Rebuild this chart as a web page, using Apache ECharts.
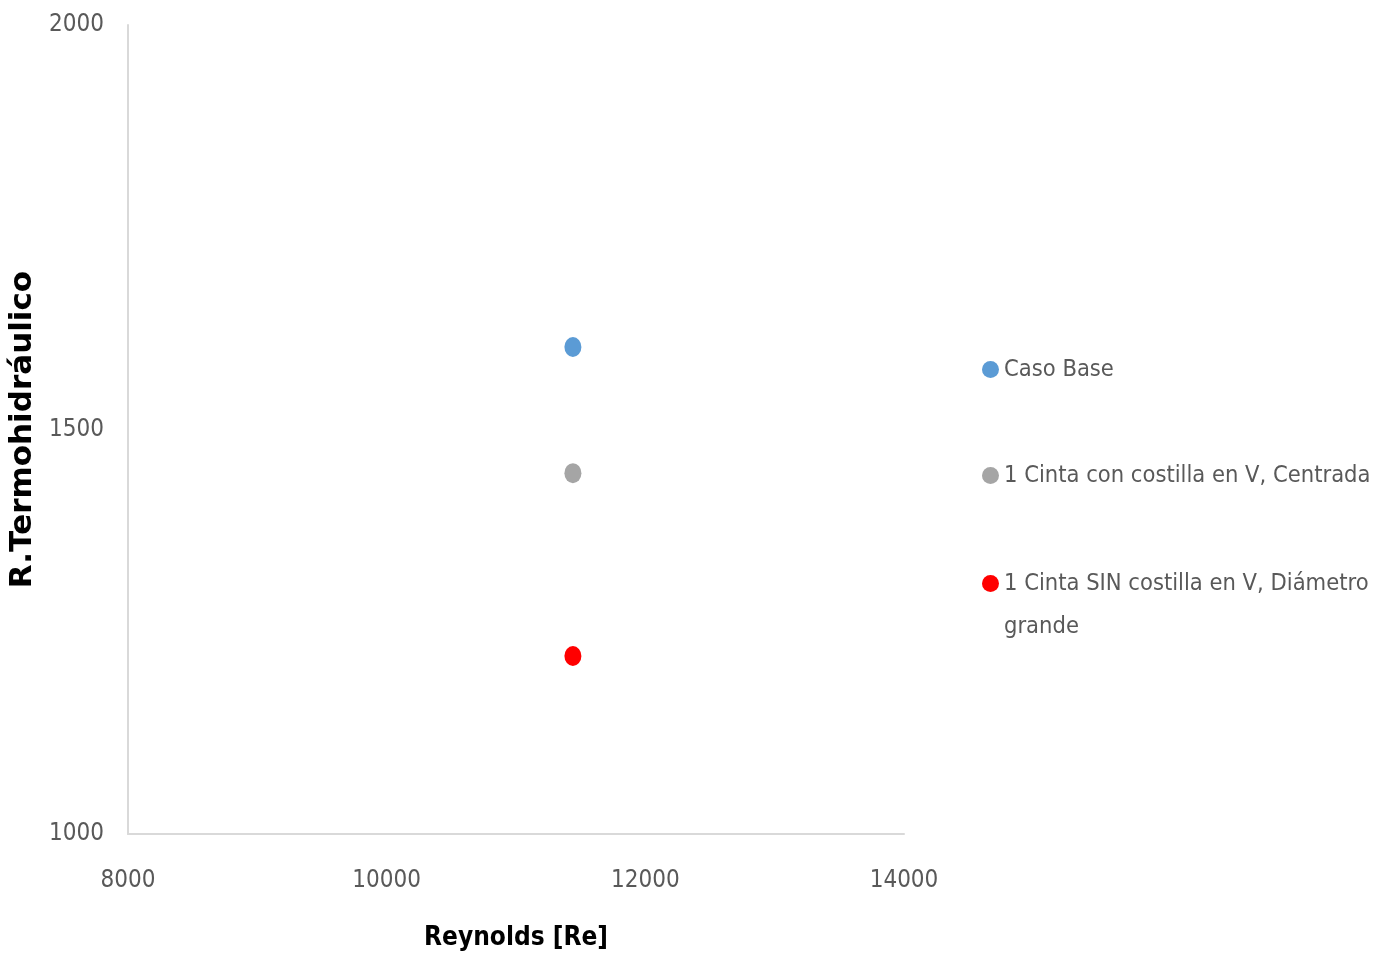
<!DOCTYPE html>
<html><head><meta charset="utf-8">
<script src="https://cdn.jsdelivr.net/npm/echarts@6/dist/echarts.min.js"></script>
<style>html,body{margin:0;padding:0;background:#fff}#c{width:1387px;height:957px}</style>
</head><body><div id="c"></div>
<script>
const seriesNames = ['Caso Base', '1 Cinta con costilla en V, Centrada', '1 Cinta SIN costilla en V, Diámetro grande'];
const reynolds = [11440, 11440, 11440];
const rTermo = [1602, 1446, 1220];
const colors = ['#5b9bd5', '#a5a5a5', '#ff0000'];
const xTicks = [8000, 10000, 12000, 14000];
const yTicks = [1000, 1500, 2000];

const FONT = "'DejaVu Sans Condensed', 'Liberation Sans Narrow', sans-serif";
const chart = echarts.init(document.getElementById('c'));
const legendTops = [343, 449, 514];
const legendLabels = ['Caso Base', '1 Cinta con costilla en V, Centrada', '\n1 Cinta SIN costilla en V, Diámetro\ngrande'];
chart.setOption({
  animation: false,
  grid: {left: 128, right: 483, top: 25, bottom: 123, containLabel: false, outerBoundsMode: 'none'},
  xAxis: {
    type: 'value', min: xTicks[0], max: xTicks[xTicks.length-1], interval: 2000,
    name: 'Reynolds [Re]', nameLocation: 'middle', nameGap: 91,
    nameTextStyle: {fontFamily: FONT, fontWeight: 'bold', fontSize: 26, color: '#000'},
    axisLine: {show: true, lineStyle: {color: '#d9d9d9', width: 2}},
    axisTick: {show: false}, splitLine: {show: false},
    axisLabel: {fontFamily: FONT, fontSize: 24, color: '#595959', margin: 35, formatter: v => String(v)}
  },
  yAxis: {
    type: 'value', min: yTicks[0], max: yTicks[yTicks.length-1], interval: 500,
    name: 'R.Termohidráulico', nameLocation: 'middle', nameGap: 84, nameRotate: 90,
    nameTextStyle: {fontFamily: "'DejaVu Sans', sans-serif", fontWeight: 'bold', fontSize: 31, color: '#000'},
    axisLine: {show: true, lineStyle: {color: '#d9d9d9', width: 2}},
    axisTick: {show: false}, splitLine: {show: false},
    axisLabel: {fontFamily: FONT, fontSize: 24, color: '#595959', margin: 24, formatter: v => String(v)}
  },
  legend: seriesNames.map((n, i) => ({
    data: [n], orient: 'vertical', left: 977, top: legendTops[i],
    icon: 'circle', itemWidth: 17, itemHeight: 20, itemGap: 0,
    formatter: () => legendLabels[i],
    textStyle: {fontFamily: FONT, fontSize: 23.5, color: '#595959', lineHeight: 43},
    selectedMode: false
  })),
  series: seriesNames.map((n, i) => ({
    name: n, type: 'scatter', symbol: 'circle', symbolSize: [17, 20],
    itemStyle: {color: colors[i], opacity: 1},
    data: [[reynolds[i], rTermo[i]]]
  }))
});
</script></body></html>
